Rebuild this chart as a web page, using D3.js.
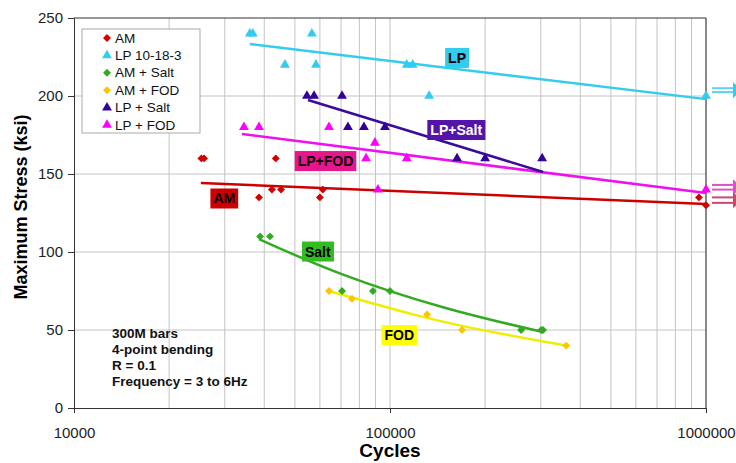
<!DOCTYPE html>
<html>
<head>
<meta charset="utf-8">
<script src="https://cdn.jsdelivr.net/npm/d3@7"></script>
<style>
  body { margin: 0; background: #fff; }
  svg { font-family: "Liberation Sans", Arial, sans-serif; }
</style>
</head>
<body>
<div id="chart"></div>
<script>
// 数据 (cycles, ksi)
const amPts = [[25300, 160], [25800, 160], [43500, 160], [38500, 135], [42300, 140], [45200, 140],
  [61300, 140], [60000, 135], [950000, 135], [1000000, 130]];
const lpPts = [[36000, 240], [36800, 240], [56600, 240], [46500, 220], [58300, 220],
  [113000, 220], [118000, 220], [133000, 200], [1000000, 200]];
const amSaltPts = [[38800, 110], [41700, 110], [70500, 75], [88300, 75], [100000, 75],
  [260000, 50], [301000, 50], [305000, 50]];
const amFodPts = [[64100, 75], [75800, 70], [131000, 60], [169000, 50], [361000, 40]];
const lpSaltPts = [[54600, 200], [57500, 200], [70500, 200], [73600, 180], [82700, 180],
  [96400, 180], [163000, 160], [200000, 160], [303000, 160]];
const lpFodPts = [[34500, 180], [38500, 180], [64100, 180], [89600, 170], [84000, 160],
  [113000, 160], [91600, 140], [1000000, 140]];

// 趋势线
const amTrend = [[25200, 144.2], [1000000, 130.8]];
const lpTrend = [[36000, 233.3], [1000000, 198]];
const lpFodTrend = [[34000, 175.6], [1000000, 137.8]];
const lpSaltTrend = [[55000, 197.4], [305000, 151.3]];
const saltTrend = [[38500, 108.3], [70000, 86], [150000, 64.1], [305000, 48.7]];
const fodTrend = [[64000, 75], [120000, 59.7], [200000, 49.6], [361000, 40]];

// runout arrows (ksi)
const runouts = [[205, '#5fd0f0'], [202.5, '#5fd0f0'], [143, '#e050c8'], [140, '#e050c8'],
  [135, '#c84a70'], [131.5, '#c84a70']];

const yTicks = [0, 50, 100, 150, 200, 250];
const xTicks = [10000, 100000, 1000000];
const notes = ['300M bars', '4-point bending', 'R = 0.1', 'Frequency = 3 to 6Hz'];

const series = [
  { name: 'AM', pts: amPts, shape: 'diamond', color: '#d40000' },
  { name: 'LP 10-18-3', pts: lpPts, shape: 'tri', color: '#33ccf0' },
  { name: 'AM + Salt', pts: amSaltPts, shape: 'diamond', color: '#33aa22' },
  { name: 'AM + FOD', pts: amFodPts, shape: 'diamond', color: '#ffc400' },
  { name: 'LP + Salt', pts: lpSaltPts, shape: 'tri', color: '#330099' },
  { name: 'LP + FOD', pts: lpFodPts, shape: 'tri', color: '#ff00ff' }
];
const trends = [
  { pts: amTrend, color: '#cc0000' },
  { pts: lpTrend, color: '#33ccee' },
  { pts: lpFodTrend, color: '#ee11ee' },
  { pts: lpSaltTrend, color: '#3a0c9c' },
  { pts: saltTrend, color: '#33aa22' },
  { pts: fodTrend, color: '#eeee00' }
];
// 标签: text, anchor (cycles, ksi), fill, text color
const tags = [
  { t: 'LP', at: [163000, 224.4], bg: '#33ccee', fg: '#000' },
  { t: 'LP+Salt', at: [162000, 178.2], bg: '#5514a8', fg: '#fff' },
  { t: 'LP+FOD', at: [62500, 158.3], bg: '#e8168c', fg: '#000' },
  { t: 'AM', at: [29900, 134.3], bg: '#cc0000', fg: '#000' },
  { t: 'Salt', at: [59100, 100.3], bg: '#33bb22', fg: '#000' },
  { t: 'FOD', at: [107000, 46.8], bg: '#ffff00', fg: '#000' }
];

const W = 736, H = 463;
const L = 74, R = 706, T = 18, B = 408;

const svg = d3.select('#chart').append('svg').attr('width', W).attr('height', H);

const x = d3.scaleLog().domain([10000, 1000000]).range([L, R]);
const y = d3.scaleLinear().domain([0, 250]).range([B, T]);

// 网格
const minor = [];
[10000, 100000].forEach(d => { for (let k = 2; k <= 10; k++) minor.push(d * k); });
svg.append('g').selectAll('line').data(minor).join('line')
  .attr('x1', d => x(d)).attr('x2', d => x(d)).attr('y1', T).attr('y2', B)
  .attr('stroke', '#c4c4c4').attr('stroke-width', 1);
svg.append('g').selectAll('line').data(yTicks.slice(1, -1)).join('line')
  .attr('x1', L).attr('x2', R).attr('y1', d => y(d)).attr('y2', d => y(d))
  .attr('stroke', '#c4c4c4').attr('stroke-width', 1);

// 坐标轴
const yAxis = svg.append('g').attr('transform', `translate(${L},0)`)
  .call(d3.axisLeft(y).tickValues(yTicks).tickSize(6).tickPadding(5));
const xAxis = svg.append('g').attr('transform', `translate(0,${B})`)
  .call(d3.axisBottom(x).tickValues(xTicks).tickFormat(d3.format('d')).tickSize(5).tickPadding(14));
[yAxis, xAxis].forEach(g => {
  g.select('.domain').attr('stroke', '#333');
  g.selectAll('.tick line').attr('stroke', '#333');
  g.selectAll('text').attr('font-size', 15).attr('fill', '#222')
    .attr('font-family', '"Liberation Sans", Arial, sans-serif');
});
svg.append('line').attr('x1', L).attr('x2', R).attr('y1', T).attr('y2', T).attr('stroke', '#333');
svg.append('line').attr('x1', R).attr('x2', R).attr('y1', T).attr('y2', B).attr('stroke', '#333');

svg.append('text').attr('transform', 'translate(27,207) rotate(-90)')
  .attr('text-anchor', 'middle').attr('font-size', 18).attr('font-weight', 'bold')
  .text('Maximum Stress (ksi)');
svg.append('text').attr('x', x(100000)).attr('y', 457).attr('text-anchor', 'middle')
  .attr('font-size', 19).attr('font-weight', 'bold').text('Cycles');

// 趋势线
const line = d3.line().x(d => x(d[0])).y(d => y(d[1])).curve(d3.curveNatural);
svg.append('g').selectAll('path').data(trends).join('path')
  .attr('d', d => line(d.pts)).attr('fill', 'none')
  .attr('stroke', d => d.color).attr('stroke-width', 2.5);

// runout arrows
const ro = svg.append('g');
runouts.forEach(([s, c]) => {
  ro.append('line').attr('x1', R + 6).attr('x2', W - 2).attr('y1', y(s)).attr('y2', y(s))
    .attr('stroke', c).attr('stroke-width', 2);
});
[[203.75, '#33ccee'], [141.5, '#e050c8'], [133.25, '#c84a70']].forEach(([s, c]) => {
  ro.append('path').attr('d', `M${W - 3},${y(s) - 8}L${W + 6},${y(s)}L${W - 3},${y(s) + 8}Z`)
    .attr('fill', c);
});

// 数据点
const diamond = d3.symbol().type(d3.symbolDiamond2).size(40);
const tri = d3.symbol().type(d3.symbolTriangle).size(42);
series.forEach(s => {
  svg.append('g').selectAll('path').data(s.pts).join('path')
    .attr('transform', d => `translate(${x(d[0])},${y(d[1])})`)
    .attr('d', s.shape === 'diamond' ? diamond : tri)
    .attr('fill', s.color);
});

// 标签框
tags.forEach(tg => {
  const g = svg.append('g');
  const tx = g.append('text').attr('x', x(tg.at[0])).attr('y', y(tg.at[1]))
    .attr('text-anchor', 'middle').attr('dominant-baseline', 'central')
    .attr('font-size', 14).attr('font-weight', 'bold').attr('fill', tg.fg).text(tg.t);
  const bb = tx.node().getBBox();
  g.insert('rect', 'text').attr('x', bb.x - 3).attr('y', bb.y - 2)
    .attr('width', bb.width + 6).attr('height', bb.height + 4).attr('fill', tg.bg);
});

// 说明文字
svg.append('g').selectAll('text').data(notes).join('text')
  .attr('x', 112).attr('y', (d, i) => 338 + i * 16)
  .attr('font-size', 13.5).attr('font-weight', 'bold').attr('fill', '#111').text(d => d);

// 图例
const lg = svg.append('g').attr('transform', 'translate(82,29)');
lg.append('rect').attr('width', 118).attr('height', 104).attr('fill', '#fff')
  .attr('stroke', '#aaa');
series.forEach((s, i) => {
  const cy = 9 + i * 17.4;
  lg.append('path').attr('transform', `translate(25,${cy})`)
    .attr('d', s.shape === 'diamond' ? diamond : tri).attr('fill', s.color);
  lg.append('text').attr('x', 33).attr('y', cy).attr('dominant-baseline', 'central')
    .attr('font-size', 13.5).attr('fill', '#111').text(s.name);
});
</script>
</body>
</html>
